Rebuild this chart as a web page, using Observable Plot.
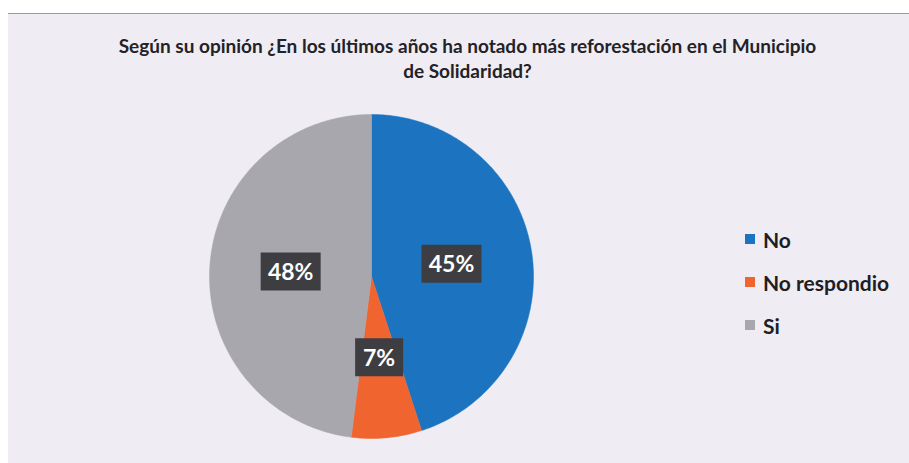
<!DOCTYPE html>
<html>
<head>
<meta charset="utf-8">
<script src="https://cdn.jsdelivr.net/npm/d3@7"></script>
<script src="https://cdn.jsdelivr.net/npm/@observablehq/plot@0.6"></script>
<style>
  html, body { margin: 0; padding: 0; background: #ffffff; }
  #wrap { position: relative; width: 909px; height: 463px; overflow: hidden; }
  #bg { position: absolute; left: 8px; top: 13px; right: 0; bottom: 0; background: #efedf3; border-top: 1px solid #9a9aa2; }
  #title { position: absolute; left: 0; top: 33px; width: 935px; text-align: center;
           font-family: Lato, sans-serif; font-weight: 700; font-size: 19px; line-height: 25px; color: #222228; }
  #chart { position: absolute; left: 0; top: 0; }
  #legend { position: absolute; left: 745px; top: 226px; font-family: Lato, sans-serif; font-weight: 700; font-size: 21px; color: #1e1e24; }
  .item { display: flex; align-items: center; height: 26px; margin-bottom: 17px; }
  .sw { width: 10px; height: 10px; margin-right: 8px; }
</style>
</head>
<body>
<div id="wrap">
  <div id="bg"></div>
  <div id="chart"></div>
  <div id="title">Según su opinión ¿En los últimos años ha notado más reforestación en el Municipio<br>de Solidaridad?</div>
  <div id="legend"></div>
</div>
<script>
const categories = ["No", "No respondio", "Si"];
const values = [45, 7, 48];
const colors = ["#1c74c1", "#f0652f", "#a8a7ae"];
const labels = ["45%", "7%", "48%"];

// pie geometry (unit circle, starting at 12 o'clock, clockwise)
const arcs = d3.pie().sort(null).value(d => d.value)(
  categories.map((c, i) => ({cat: c, value: values[i], label: labels[i]}))
);
const pts = [];
arcs.forEach(a => {
  pts.push({cat: a.data.cat, x: 0, y: 0});
  const n = Math.max(8, Math.ceil((a.endAngle - a.startAngle) * 60));
  for (let k = 0; k <= n; k++) {
    const t = a.startAngle + (a.endAngle - a.startAngle) * k / n;
    pts.push({cat: a.data.cat, x: Math.sin(t), y: Math.cos(t)});
  }
  pts.push({cat: a.data.cat, x: 0, y: 0});
});
const lab = arcs.map(a => {
  const m = (a.startAngle + a.endAngle) / 2;
  return {label: a.data.label, x: 0.5 * Math.sin(m), y: 0.5 * Math.cos(m), wide: a.data.label.length > 2};
});

const W = 909, H = 463, cx = 371, cy = 276, R = 162;
const boxW = {draw(ctx) { ctx.rect(-30, -19, 60, 38); }};
const boxN = {draw(ctx) { ctx.rect(-24, -19, 48, 38); }};

const plot = Plot.plot({
  width: W, height: H,
  margin: 0,
  x: {domain: [-cx / R, (W - cx) / R], axis: null},
  y: {domain: [-(H - cy) / R, cy / R], axis: null},
  color: {domain: categories, range: colors},
  style: {background: "transparent"},
  marks: [
    Plot.line(pts, {x: "x", y: "y", z: "cat", fill: "cat", stroke: "cat", strokeWidth: 0.5, curve: "linear"}),
    Plot.dot(lab.filter(d => d.wide), {x: "x", y: "y", symbol: boxW, r: 10, fill: "#3e3e42", stroke: "none"}),
    Plot.dot(lab.filter(d => !d.wide), {x: "x", y: "y", symbol: boxN, r: 10, fill: "#3e3e42", stroke: "none"}),
    Plot.text(lab, {x: "x", y: "y", text: "label", fill: "white", fontSize: 23, fontWeight: 700, fontFamily: "Lato, sans-serif", dy: 1})
  ]
});
document.getElementById("chart").appendChild(plot);

const leg = document.getElementById("legend");
categories.forEach((c, i) => {
  const it = document.createElement("div");
  it.className = "item";
  const sw = document.createElement("span");
  sw.className = "sw";
  sw.style.background = colors[i];
  const tx = document.createElement("span");
  tx.textContent = c;
  it.appendChild(sw); it.appendChild(tx);
  leg.appendChild(it);
});
</script>
</body>
</html>
